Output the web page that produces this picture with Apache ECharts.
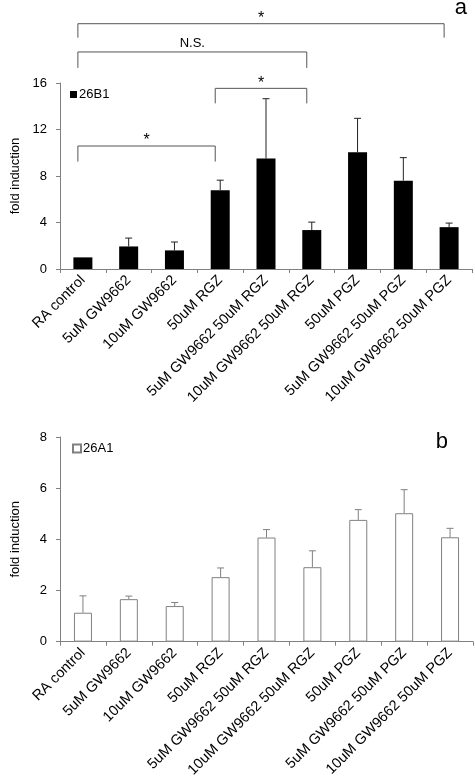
<!DOCTYPE html>
<html>
<head>
<meta charset="utf-8">
<script src="https://cdn.jsdelivr.net/npm/echarts@6/dist/echarts.min.js"></script>
<style>
html,body{margin:0;padding:0;background:#fff;}
#c{width:475px;height:780px;}
</style>
</head>
<body>
<div id="c"></div>
<script>
// ---------- data ----------
const categories = ['RA control','5uM GW9662','10uM GW9662','50uM RGZ','5uM GW9662 50uM RGZ','10uM GW9662 50uM RGZ','50uM PGZ','5uM GW9662 50uM PGZ','10uM GW9662 50uM PGZ'];
const values26B1 = [1.0, 1.94, 1.6, 6.78, 9.5, 3.35, 10.04, 7.6, 3.6];
const err26B1    = [0, 0.72, 0.72, 0.86, 5.15, 0.68, 2.92, 1.98, 0.35];
const values26A1 = [1.13, 1.66, 1.39, 2.52, 4.07, 2.91, 4.76, 5.02, 4.08];
const err26A1    = [0.66, 0.12, 0.14, 0.36, 0.31, 0.64, 0.40, 0.92, 0.35];
const yTicksTop = [0, 4, 8, 12, 16];
const yTicksBottom = [0, 2, 4, 6, 8];
const bracketPairs = [[0, 8], [0, 5], [3, 5], [0, 3]];
const bracketLabels = ['*', 'N.S.', '*', '*'];

// ---------- layout / style ----------
const bracketTop = [21.1, 18.67, 15.54, 10.58];
const bracketEnd = [19.9, 17.3, 14.25, 9.24];
const FONT = '"Liberation Sans", Arial, sans-serif';
const AX = '#808080';

const chart = echarts.init(document.getElementById('c'), null, {renderer: 'canvas'});

function errRender(errs, color) {
  return function (params, api) {
    const i = api.value(0);
    const v = api.value(1);
    const e = api.value(2);
    if (!e) return null;
    const p0 = api.coord([i, v]);
    const p1 = api.coord([i, v + e]);
    const w = 3.5;
    return {
      type: 'group',
      children: [
        {type: 'line', shape: {x1: p0[0], y1: p0[1], x2: p1[0], y2: p1[1]}, style: {stroke: color, lineWidth: 1}},
        {type: 'line', shape: {x1: p1[0] - w, y1: p1[1], x2: p1[0] + w, y2: p1[1]}, style: {stroke: color, lineWidth: 1}}
      ]
    };
  };
}

function bracketRender(params, api) {
  const k = params.dataIndex;
  const a = api.coord([api.value(0), bracketTop[k]]);
  const b = api.coord([api.value(1), bracketTop[k]]);
  const ea = api.coord([api.value(0), bracketEnd[k]]);
  const dx = -5;
  const x1 = a[0] + dx, x2 = b[0] + dx, y = a[1], ye = ea[1];
  const label = bracketLabels[k];
  const isStar = label === '*';
  return {
    type: 'group',
    children: [
      {type: 'polyline', shape: {points: [[x1, ye], [x1, y], [x2, y], [x2, ye]]}, style: {stroke: '#555', lineWidth: 1, fill: null}},
      {type: 'text', style: {text: label, x: (x1 + x2) / 2, y: isStar ? y - 5 : y - 9,
        align: 'center', verticalAlign: 'middle', fontSize: isStar ? 16 : 13, fontFamily: FONT, fill: '#000'}}
    ]
  };
}

const axisCommonX = {
  type: 'category',
  data: categories,
  boundaryGap: true,
  axisLine: {lineStyle: {color: AX, width: 1}},
  axisTick: {show: true, alignWithLabel: false, length: 4, lineStyle: {color: AX}},
  axisLabel: {interval: 0, rotate: 45, fontSize: 14.5, fontFamily: FONT, color: '#000', margin: 9}
};
const axisCommonY = {
  type: 'value',
  min: 0,
  name: 'fold induction',
  nameLocation: 'middle',
  nameGap: 38,
  nameTextStyle: {fontSize: 13, fontFamily: FONT, color: '#000'},
  splitLine: {show: false},
  axisLine: {show: true, lineStyle: {color: AX, width: 1}},
  axisTick: {show: true, length: 4, lineStyle: {color: AX}},
  axisLabel: {fontSize: 13, fontFamily: FONT, color: '#000', margin: 13}
};

const option = {
  animation: false,
  backgroundColor: '#fff',
  title: [
    {text: 'a', right: 8, top: -3, padding: 0, textStyle: {fontSize: 22, fontWeight: 'normal', fontFamily: FONT, color: '#000'}},
    {text: 'b', right: 27, top: 431, padding: 0, textStyle: {fontSize: 22, fontWeight: 'normal', fontFamily: FONT, color: '#000'}}
  ],
  legend: [
    {data: ['26B1'], left: 70, top: 88, padding: 0, icon: 'rect', itemWidth: 7, itemHeight: 7,
     textStyle: {fontSize: 13, fontFamily: FONT, color: '#000', padding: [0, 0, 0, -3]}},
    {data: ['26A1'], left: 72, top: 442, padding: 0, icon: 'rect', itemWidth: 8, itemHeight: 8,
     textStyle: {fontSize: 13, fontFamily: FONT, color: '#000', padding: [0, 0, 0, -3]}}
  ],
  grid: [
    {left: 60, top: 83, width: 412, height: 186},
    {left: 60, top: 437, width: 413, height: 205}
  ],
  xAxis: [
    Object.assign({gridIndex: 0}, axisCommonX),
    Object.assign({gridIndex: 1}, axisCommonX)
  ],
  yAxis: [
    Object.assign({gridIndex: 0}, axisCommonY, {max: yTicksTop[yTicksTop.length - 1], interval: yTicksTop[1] - yTicksTop[0]}),
    Object.assign({gridIndex: 1}, axisCommonY, {max: yTicksBottom[yTicksBottom.length - 1], interval: yTicksBottom[1] - yTicksBottom[0]})
  ],
  series: [
    {name: '26B1', type: 'bar', xAxisIndex: 0, yAxisIndex: 0, data: values26B1, barWidth: 19,
     itemStyle: {color: '#000'}},
    {type: 'custom', xAxisIndex: 0, yAxisIndex: 0, z: 5,
     data: values26B1.map((v, i) => [i, v, err26B1[i]]),
     encode: {x: 0, y: 1},
     renderItem: errRender(err26B1, '#222')},
    {type: 'custom', xAxisIndex: 0, yAxisIndex: 0, z: 5, clip: false,
     data: bracketPairs.map((p, k) => [p[0], p[1], 0]),
     encode: {x: [0, 1], y: 2},
     renderItem: bracketRender},
    {name: '26A1', type: 'bar', xAxisIndex: 1, yAxisIndex: 1, data: values26A1, barWidth: 18,
     itemStyle: {color: '#fff', borderColor: AX, borderWidth: 1}},
    {type: 'custom', xAxisIndex: 1, yAxisIndex: 1, z: 5,
     data: values26A1.map((v, i) => [i, v, err26A1[i]]),
     encode: {x: 0, y: 1},
     renderItem: errRender(err26A1, AX)}
  ]
};
chart.setOption(option);
</script>
</body>
</html>
